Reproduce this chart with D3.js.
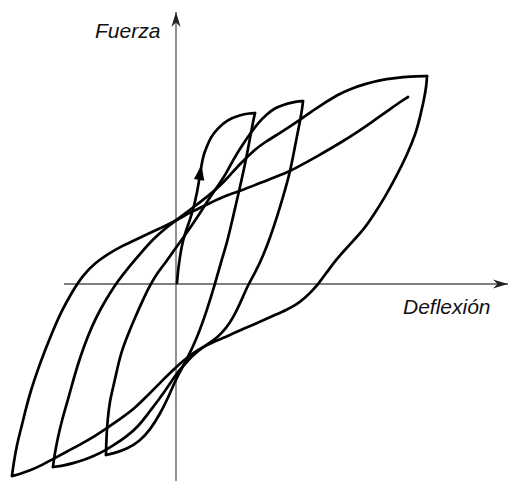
<!DOCTYPE html>
<html>
<head>
<meta charset="utf-8">
<script src="https://cdn.jsdelivr.net/npm/d3@7/dist/d3.min.js"></script>
<style>
  html, body { margin: 0; padding: 0; background: #fff; }
  svg { display: block; }
  .axis-label { font-family: "Liberation Sans", Arial, sans-serif; font-style: italic; font-size: 21px; fill: #111; }
</style>
</head>
<body>
<svg id="chart" width="512" height="481"></svg>
<script>
// Force–deflection hysteresis: each branch is [deflection, force]
const initialLoading = [
  [0.1, 0.1], [0.2, 1.3], [0.35, 2.4], [0.55, 3.7], [0.9, 5.1], [1.4, 6.4], [1.75, 7.6],
  [2.1, 9.1], [2.35, 10.6], [2.55, 11.9], [2.75, 12.9], [3.1, 13.8], [3.5, 14.7],
  [4.1, 15.5], [5.1, 16.4], [6.4, 16.9], [7.4, 17.07], [7.9, 17.1]
];
const unloading1 = [
  [7.9, 17.1], [7.7, 16.2], [7.4, 14.6], [7.0, 12.4], [6.4, 9.7], [5.7, 6.7], [5.1, 4.1],
  [4.5, 2.2], [3.9, 0], [3.1, -2.6], [2.1, -5.4], [1.2, -7.3], [0.6, -8.4], [0, -9.5],
  [-0.8, -11.4], [-1.6, -13.0], [-2.6, -14.6], [-3.6, -15.7], [-4.9, -16.5], [-6.1, -16.9], [-7.0, -17.1]
];
const reloading2 = [
  [-7.0, -17.1], [-6.97, -15.6], [-6.85, -13.6], [-6.6, -11.6], [-6.3, -10.4], [-5.9, -8.6],
  [-5.5, -6.9], [-4.9, -5.3], [-4.2, -3.6], [-3.4, -1.8], [-2.6, -0.1], [-1.8, 1.2], [-1.0, 2.2],
  [-0.1, 3.5], [0.7, 4.6], [1.6, 5.9], [2.4, 7.1], [3.1, 8.2], [3.7, 9.1], [4.4, 10.1],
  [5.1, 11.2], [5.7, 12.4], [6.7, 14.0], [7.4, 15.0], [8.2, 16.1], [9.1, 17.0], [9.9, 17.6],
  [10.7, 17.9], [11.7, 18.2], [12.7, 18.3]
];
const unloading2 = [
  [12.7, 18.3], [12.6, 17.4], [12.4, 16.3], [12.1, 14.8], [11.7, 12.7], [11.3, 10.8], [10.7, 8.7],
  [10.1, 6.7], [9.4, 4.6], [8.7, 2.8], [8.0, 1.3], [7.2, -0.1], [6.6, -1.5], [6.0, -2.8],
  [5.4, -3.9], [4.6, -4.9], [3.7, -5.7], [2.7, -6.3], [1.7, -7.1], [0.9, -8.0], [0.1, -8.9],
  [-0.7, -10.1], [-1.6, -11.4], [-2.6, -12.7], [-3.8, -14.3], [-5.0, -15.3], [-6.2, -16.1],
  [-7.2, -16.7], [-8.2, -17.2], [-9.2, -17.6], [-10.2, -17.9], [-11.2, -18.15], [-12.3, -18.3]
];
const reloading3 = [
  [-12.3, -18.3], [-12.2, -17.5], [-12.05, -16.6], [-11.8, -15.3], [-11.4, -13.6], [-10.9, -11.9],
  [-10.4, -10.1], [-9.9, -8.3], [-9.2, -6.2], [-8.4, -4.2], [-7.5, -2.4], [-6.6, -0.9],
  [-5.8, 0.3], [-4.8, 1.6], [-3.6, 3.0], [-2.3, 4.5], [-0.9, 5.7], [0.7, 6.9], [1.9, 7.8],
  [3.1, 8.7], [4.4, 9.8], [5.5, 11.0], [6.4, 12.0], [7.7, 13.3], [8.9, 14.2], [10.4, 15.1],
  [12.4, 16.4], [13.6, 17.3], [14.7, 18.0], [16.1, 18.9], [17.4, 19.5], [18.9, 20.0],
  [20.4, 20.4], [21.9, 20.6], [23.4, 20.75], [25.1, 20.8]
];
const unloading3 = [
  [25.1, 20.8], [25.05, 19.9], [24.8, 18.4], [24.4, 16.7], [24.0, 15.1], [23.1, 12.9], [22.0, 10.7],
  [20.9, 8.7], [19.7, 6.8], [18.8, 5.5], [17.7, 4.3], [16.7, 3.2], [16.0, 2.4], [15.1, 1.2],
  [14.3, 0.1], [13.7, -0.6], [12.9, -1.4], [12.0, -2.1], [11.0, -2.6], [10.0, -3.05], [9.0, -3.5],
  [8.0, -3.95], [6.7, -4.5], [5.4, -5.1], [3.7, -5.8], [2.7, -6.3], [1.7, -6.9], [0.7, -7.7],
  [-0.4, -8.7], [-1.6, -9.9], [-2.9, -11.2], [-4.2, -12.5], [-5.6, -13.5], [-6.9, -14.4],
  [-8.1, -15.2], [-9.3, -15.9], [-10.8, -16.7], [-12.3, -17.5], [-13.6, -18.2], [-14.6, -18.65],
  [-15.6, -19.0], [-16.4, -19.2]
];
const reloading4 = [
  [-16.4, -19.2], [-16.3, -18.4], [-16.1, -17.1], [-15.8, -15.6], [-15.4, -14.1], [-15.0, -12.4],
  [-14.5, -10.6], [-13.9, -8.8], [-13.2, -6.9], [-12.4, -4.9], [-11.5, -2.8], [-10.4, -0.8],
  [-9.3, 0.9], [-8.1, 2.1], [-6.8, 3.0], [-5.4, 3.8], [-3.9, 4.5], [-2.6, 5.1], [-1.1, 5.8],
  [0.1, 6.4], [1.7, 7.3], [3.4, 8.1], [4.9, 8.8], [6.4, 9.3], [8.4, 10.1], [9.9, 10.7],
  [11.3, 11.2], [12.9, 12.1], [14.7, 13.1], [16.4, 14.1], [18.0, 15.1], [19.6, 16.2],
  [21.3, 17.4], [22.4, 18.2], [23.2, 18.7]
];
const branches = [initialLoading, unloading1, reloading2, unloading2, reloading3, unloading3, reloading4];

// Direction arrow sits on the initial loading branch at this point
const arrowIndex = 9;

// Axis extents and titles
const deflectionExtent = [-11.2, 33.2];
const forceExtent = [-19.7, 27.2];
const xTitle = "Deflexión";
const yTitle = "Fuerza";

const width = 512, height = 481;
const svg = d3.select("#chart");

const x = d3.scaleLinear().domain([-17.6, 33.6]).range([0, width]);
const y = d3.scaleLinear().domain([28.4, -19.7]).range([0, height]);

// Notched arrowheads for the axes
const defs = svg.append("defs");
defs.append("marker")
  .attr("id", "axis-arrow")
  .attr("viewBox", "-16 -6 17 12")
  .attr("refX", 0).attr("refY", 0)
  .attr("markerWidth", 17).attr("markerHeight", 12)
  .attr("markerUnits", "userSpaceOnUse")
  .attr("orient", "auto")
  .append("path")
  .attr("d", "M0,0 L-15,-4.6 L-10.5,0 L-15,4.6 Z")
  .attr("fill", "#222");

const axes = svg.append("g").attr("stroke", "#555").attr("stroke-width", 1.3);
axes.append("line")
  .attr("x1", x(deflectionExtent[0])).attr("x2", x(deflectionExtent[1]))
  .attr("y1", y(0)).attr("y2", y(0))
  .attr("marker-end", "url(#axis-arrow)");
axes.append("line")
  .attr("x1", x(0)).attr("x2", x(0))
  .attr("y1", y(forceExtent[0])).attr("y2", y(forceExtent[1]))
  .attr("marker-end", "url(#axis-arrow)");

svg.append("text").attr("class", "axis-label")
  .attr("x", x(0) - 81).attr("y", y(forceExtent[1]) + 26)
  .text(yTitle);
svg.append("text").attr("class", "axis-label")
  .attr("x", x(deflectionExtent[1]) - 105).attr("y", y(0) + 30)
  .text(xTitle);

// Hysteresis branches
const line = d3.line()
  .x(d => x(d[0]))
  .y(d => y(d[1]))
  .curve(d3.curveBasis);

svg.append("g")
  .selectAll("path")
  .data(branches)
  .join("path")
  .attr("d", line)
  .attr("fill", "none")
  .attr("stroke", "#000")
  .attr("stroke-width", 2.7)
  .attr("stroke-linecap", "round")
  .attr("stroke-linejoin", "round");

// Loading-direction arrowhead
const tip = initialLoading[arrowIndex];
const prev = initialLoading[arrowIndex - 2];
const tx = x(tip[0]), ty = y(tip[1]);
const angle = Math.atan2(ty - y(prev[1]), tx - x(prev[0])) * 180 / Math.PI;
svg.append("path")
  .attr("d", "M0,0 L-15,-5.2 L-15,5.2 Z")
  .attr("transform", `translate(${tx},${ty}) rotate(${angle})`)
  .attr("fill", "#000");
</script>
</body>
</html>
